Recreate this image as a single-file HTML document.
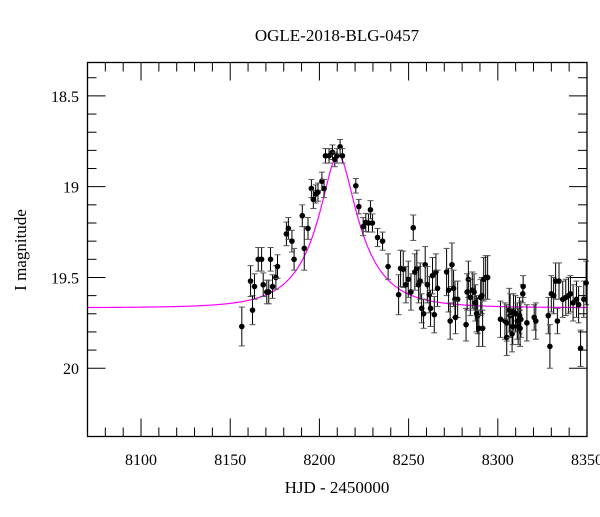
<!DOCTYPE html>
<html><head><meta charset="utf-8"><style>
body{margin:0;background:#fff}
text{font-family:"Liberation Serif",serif;fill:#000}
</style></head><body>
<svg id="chart" width="600" height="512" viewBox="0 0 600 512" xmlns="http://www.w3.org/2000/svg">
<text x="337" y="41" font-size="17" text-anchor="middle">OGLE-2018-BLG-0457</text>
<text x="337" y="493" font-size="17" text-anchor="middle">HJD - 2450000</text>
<text x="26" y="250" font-size="17" text-anchor="middle" transform="rotate(-90 26 250)">I magnitude</text>
<g id="ticks"></g><g id="model"></g><g id="points"></g>
<rect x="87.5" y="62.5" width="499.5" height="374" fill="none" stroke="#000" stroke-width="1.3"/>
</svg>
<script>
const xTicks=[8100,8150,8200,8250,8300,8350];
const yTicks=[18.5,19,19.5,20];
const yTickLabels=["18.5","19","19.5","20"];
const modelParams=[8210.5,27.7,0.31,0.5,19.667]; // t0, tE, u0, fs, baseline
const obsT=[8156.5,8161.4,8162.5,8163.6,8165.7,8167.6,8168.5,8170.5,8171.6,8172.6,8173.7,8175.6,8176.5,8181.5,8182.6,8184.6,8185.8,8190.4,8191.5,8193.6,8195.5,8196.6,8197.9,8199.2,8201.4,8202.6,8203.4,8205.4,8207.3,8208.6,8209.9,8211.6,8212.9,8220.4,8222.1,
8224.5,8226,8227.5,8228.6,8229.7,8232.6,8235.4,8238.5,8244.4,8245.5,8247,8248.5,8249.8,8251.3,8252.6,8253.5,8254.6,8255.6,8256.5,8257.3,8258.4,8259.3,8260.5,8261.6,8262.3,8263.4,8264.4,8265.3,8266.2,
8271.3,8272.4,8273.3,8274.3,8275.2,8276,8277.5,8276.3,8282.2,8282.8,8283.5,8284.6,8285.7,8286.7,8287.4,8288.1,8288.7,8289.4,8290.4,8291.1,8291.5,8292.1,8293.2,8294.3,
8301.5,8304,8305,8305,8306.4,8306.9,8308,8308.4,8308.8,8309.9,8310.9,8311.4,8312.2,8312.5,8312.9,8314,8314.2,8316.3,8320.4,8321.3,8328.3,8329.2,8330,8331.3,8332.4,8333.4,8334.3,8336.4,8338.1,8339.6,8340.7,8342.2,8344.1,8345.3,8346.4,8348.2,8349.5];
const obsMag=[19.77,19.52,19.68,19.55,19.40,19.40,19.54,19.58,19.58,19.40,19.55,19.50,19.44,19.26,19.23,19.30,19.40,19.16,19.34,19.23,19.01,19.07,19.04,19.03,18.97,19.01,18.83,18.83,18.81,18.85,18.83,18.78,18.83,18.995,19.11,
19.22,19.197,19.20,19.127,19.20,19.28,19.30,19.44,19.595,19.45,19.455,19.54,19.51,19.58,19.226,19.47,19.45,19.54,19.52,19.67,19.70,19.43,19.54,19.595,19.67,19.49,19.705,19.47,19.56,
19.47,19.57,19.74,19.43,19.56,19.62,19.62,19.72,19.76,19.58,19.51,19.61,19.57,19.58,19.64,19.70,19.71,19.78,19.61,19.60,19.78,19.51,19.50,19.50,
19.73,19.74,19.75,19.83,19.68,19.71,19.81,19.77,19.69,19.70,19.74,19.77,19.71,19.78,19.73,19.59,19.55,19.75,19.72,19.74,19.71,19.88,19.59,19.60,19.52,19.74,19.52,19.62,19.61,19.60,19.59,19.64,19.62,19.65,19.89,19.62,19.53];
const obsErr=[0.107,0.085,0.08,0.07,0.065,0.065,0.065,0.065,0.065,0.065,0.065,0.065,0.065,0.065,0.06,0.06,0.06,0.06,0.12,0.06,0.05,0.05,0.05,0.05,0.05,0.05,0.04,0.04,0.04,0.04,0.04,0.04,0.04,0.04,0.04,
0.05,0.05,0.05,0.05,0.05,0.05,0.05,0.07,0.11,0.1,0.1,0.1,0.1,0.1,0.07,0.1,0.1,0.1,0.1,0.08,0.08,0.1,0.1,0.1,0.1,0.1,0.1,0.1,0.1,
0.13,0.12,0.1,0.12,0.1,0.1,0.1,0.09,0.09,0.1,0.1,0.1,0.1,0.1,0.1,0.1,0.1,0.1,0.1,0.1,0.1,0.12,0.12,0.12,
0.1,0.1,0.1,0.1,0.12,0.12,0.1,0.1,0.1,0.1,0.1,0.1,0.1,0.1,0.1,0.05,0.06,0.1,0.07,0.1,0.1,0.12,0.1,0.1,0.1,0.07,0.1,0.1,0.1,0.1,0.1,0.1,0.1,0.1,0.1,0.1,0.12];
const NS="http://www.w3.org/2000/svg";
const X0=87.5,X1=587,Y0=62.5,Y1=436.5,T0=8070,T1=8350,M0=18.316,M1=20.376;
function sx(t){return X0+(t-T0)/(T1-T0)*(X1-X0);}
function sy(m){return Y0+(m-M0)/(M1-M0)*(Y1-Y0);}
function mk(tag,attrs,parent){const e=document.createElementNS(NS,tag);for(const k in attrs)e.setAttribute(k,attrs[k]);parent.appendChild(e);return e;}
const tg=document.getElementById('ticks');
for(let t=8070;t<=8350;t+=10){const major=t%50===0;const L=major?18:9;const x=sx(t);
 const a=mk('line',{x1:x,x2:x,y1:Y1,y2:Y1-L,stroke:'#000','stroke-width':1},tg);
 
 const b=mk('line',{x1:x,x2:x,y1:Y0,y2:Y0+L,stroke:'#000','stroke-width':1},tg);
 }
xTicks.forEach(t=>{const tx=mk('text',{x:sx(t),y:465,'font-size':16,'text-anchor':'middle'},tg);tx.textContent=String(t);
 });
for(let i=4;i<=20;i++){const m=18+i*0.1;if(m<M0||m>M1)continue;const major=i%5===0;const L=major?18:9;const y=sy(m);
 const a=mk('line',{x1:X0,x2:X0+L,y1:y,y2:y,stroke:'#000','stroke-width':1},tg);
 
 const b=mk('line',{x1:X1,x2:X1-L,y1:y,y2:y,stroke:'#000','stroke-width':1},tg);
 }
yTicks.forEach((m,i)=>{const tx=mk('text',{x:79,y:sy(m)+6,'font-size':16,'text-anchor':'end'},tg);tx.textContent=yTickLabels[i];
 });
function modelMag(t){const[t0,tE,u0,fs,base]=modelParams;const tau=(t-t0)/tE;const u=Math.sqrt(u0*u0+tau*tau);
 const A=(u*u+2)/(u*Math.sqrt(u*u+4));return base-2.5*Math.log10(1+fs*(A-1));}
let d='';for(let t=T0;t<=T1;t+=0.5){d+=(d?'L':'M')+sx(t).toFixed(2)+','+sy(modelMag(t)).toFixed(2);}
const mp=mk('path',{d:d,fill:'none',stroke:'#ff00ff','stroke-width':1.2},document.getElementById('model'));

const pg=document.getElementById('points');
obsT.forEach((t,i)=>{const x=sx(t),y=sy(obsMag[i]),ya=sy(obsMag[i]-obsErr[i]),yb=sy(obsMag[i]+obsErr[i]);
 const g=mk('g',{},pg);
 mk('line',{x1:x,x2:x,y1:ya,y2:yb,stroke:'#000','stroke-width':1},g);
 mk('line',{x1:x-3,x2:x+3,y1:ya,y2:ya,stroke:'#555','stroke-width':1},g);
 mk('line',{x1:x-3,x2:x+3,y1:yb,y2:yb,stroke:'#555','stroke-width':1},g);
 mk('circle',{cx:x,cy:y,r:2.8,fill:'#000'},g);});
</script>
</body></html>
